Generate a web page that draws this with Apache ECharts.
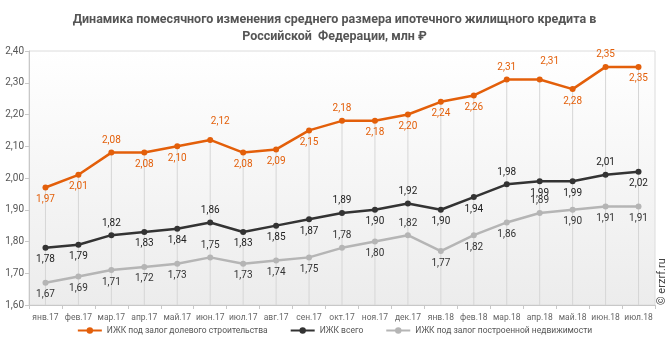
<!DOCTYPE html>
<html><head><meta charset="utf-8">
<script src="https://cdn.jsdelivr.net/npm/echarts@6/dist/echarts.min.js"></script>
<style>html,body{margin:0;padding:0;background:#fff}#c{width:669px;height:350px}</style>
</head><body><div id="c"></div>
<script>
var categories = ['янв.17','фев.17','мар.17','апр.17','май.17','июн.17','июл.17','авг.17','сен.17','окт.17','ноя.17','дек.17','янв.18','фев.18','мар.18','апр.18','май.18','июн.18','июл.18'];
var sharedConstruction = [1.97,2.01,2.08,2.08,2.10,2.12,2.08,2.09,2.15,2.18,2.18,2.20,2.24,2.26,2.31,2.31,2.28,2.35,2.35];
var totalLoans = [1.78,1.79,1.82,1.83,1.84,1.86,1.83,1.85,1.87,1.89,1.90,1.92,1.90,1.94,1.98,1.99,1.99,2.01,2.02];
var builtProperty = [1.67,1.69,1.71,1.72,1.73,1.75,1.73,1.74,1.75,1.78,1.80,1.82,1.77,1.82,1.86,1.89,1.90,1.91,1.91];
var seriesNames = ['ИЖК под залог долевого строительства','ИЖК всего','ИЖК под залог построенной недвижимости'];
var yTicks = {min:1.6, max:2.4, interval:0.1};

// label placement (style): t = top, b = bottom, r = upper-right
var posOrange = 'bbtbbrbbbtbbbbtrbtb';
var posBlack  = 'bbtbbtbbbtbtbbtbbtb';
var posGrey   = 'bbbbbtbbbtbtbbbtbbb';

function fmt(v){ return v.toFixed(2).replace('.', ','); }
function mkData(vals, pos){
  return vals.map(function(v,i){
    var p = pos.charAt(i);
    var lab = {position: p==='b' ? 'bottom' : 'top'};
    if (p==='r') { lab.offset = [10, -6]; }
    return {value: v, label: lab};
  });
}
var FONT = 'Roboto, "Noto Sans", sans-serif';
function lineSeries(name, vals, pos, color, labelColor){
  return {
    name: name, type: 'line', data: mkData(vals, pos),
    symbol: 'circle', symbolSize: 6, z: 5,
    lineStyle: {color: color, width: 2.5},
    itemStyle: {color: color},
    label: {show: true, distance: 4, fontSize: 10, fontFamily: FONT, color: labelColor,
            formatter: function(p){ return fmt(p.value); }},
    emphasis: {disabled: true}
  };
}
var chart = echarts.init(document.getElementById('c'), null, {renderer:'canvas'});
chart.setOption({
  animation: false,
  title: {
    text: 'Динамика помесячного изменения среднего размера ипотечного жилищного кредита в\nРоссийской  Федерации, млн ₽',
    left: 'center', top: 6,
    textStyle: {fontSize: 12.5, fontWeight: 'bold', color: '#555', lineHeight: 17, fontFamily: '"Liberation Sans Narrow", Roboto, sans-serif'}
  },
  grid: {left: 29, right: 14, top: 51, bottom: 45, show: true, borderColor: '#dcdcdc', borderWidth: 1,
    backgroundColor: new echarts.graphic.LinearGradient(0,0,0,1,[{offset:0,color:'#ffffff'},{offset:1,color:'#ececec'}])},
  legend: {
    bottom: 10, left: 'center', itemGap: 22, itemWidth: 24, itemHeight: 8,
    data: seriesNames,
    textStyle: {fontSize: 8.5, color: '#555', fontFamily: FONT}
  },
  xAxis: {
    type: 'category', data: categories, boundaryGap: true,
    axisLine: {lineStyle: {color: '#c8c8c8'}},
    axisTick: {show: true, interval: 0, length: 4, lineStyle: {color: '#c8c8c8'}},
    axisLabel: {fontSize: 8.5, color: '#666', margin: 8, interval: 0, fontFamily: FONT},
    splitLine: {show: false}
  },
  yAxis: {
    type: 'value', min: yTicks.min, max: yTicks.max, interval: yTicks.interval,
    axisLine: {show: true, lineStyle: {color: '#c8c8c8'}},
    axisTick: {show: true, length: 4, lineStyle: {color: '#c8c8c8'}},
    axisLabel: {fontSize: 10, color: '#555', margin: 5, fontFamily: FONT, formatter: function(v){ return fmt(v); }},
    splitLine: {show: false}
  },
  series: [
    {type: 'bar', data: sharedConstruction, barWidth: 1, silent: true, z: 1,
     itemStyle: {color: '#d6d6d6'}, legendHoverLink: false, tooltip: {show: false}},
    lineSeries(seriesNames[0], sharedConstruction, posOrange, '#e35f0a', '#e35f0a'),
    lineSeries(seriesNames[1], totalLoans, posBlack, '#333333', '#222'),
    lineSeries(seriesNames[2], builtProperty, posGrey, '#b5b5b5', '#333')
  ],
  graphic: [{
    type: 'text', x: 668, y: 305, rotation: Math.PI/2,
    style: {text: '© erzrf.ru', fontSize: 11, fill: '#444', fontFamily: FONT, textAlign: 'left', textVerticalAlign: 'bottom'}
  }]
});
</script></body></html>
